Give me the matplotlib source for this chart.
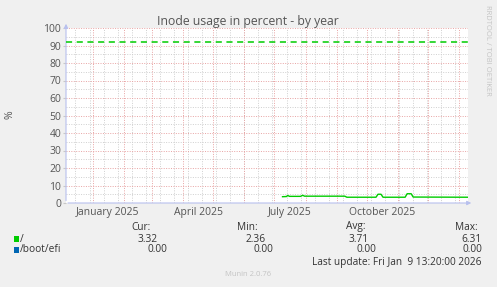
import matplotlib
matplotlib.use("Agg")
import matplotlib.pyplot as plt
import matplotlib.dates as mdates
import numpy as np
from datetime import datetime, timedelta

# ---- data ----
dates_root = ["2025-07-09", "2025-07-13", "2025-07-14", "2025-07-16", "2025-07-27",
              "2025-07-29", "2025-07-31", "2025-09-09", "2025-09-11", "2025-10-10",
              "2025-10-12", "2025-10-15", "2025-10-17", "2025-11-08", "2025-11-10",
              "2025-11-14", "2025-11-16", "2026-01-09"]
values_root = [3.6, 3.7, 4.3, 3.8, 3.8, 4.4, 3.9, 3.9, 3.3, 3.3,
               5.0, 5.0, 3.3, 3.3, 5.3, 5.3, 3.4, 3.3]
warning_level = 92
series_names = ["/", "/boot/efi"]
series_colors = ["#00CC00", "#0066B3"]
cur_vals = ["3.32", "0.00"]
min_vals = ["2.36", "0.00"]
avg_vals = ["3.71", "0.00"]
max_vals = ["6.31", "0.00"]
month_labels = ["January 2025", "April 2025", "July 2025", "October 2025"]
month_label_dates = ["2025-01-16", "2025-04-16", "2025-07-16", "2025-10-16"]
yticks = list(range(0, 101, 10))

W, H = 497, 287
fig = plt.figure(figsize=(W / 100, H / 100), dpi=100, facecolor="#F0F0F0")
FONT = "Open Sans"
plt.rcParams["font.family"] = [FONT, "DejaVu Sans"]

x0, x1, y0, y1 = 66, 468, 28, 203
ax = fig.add_axes([x0 / W, 1 - y1 / H, (x1 - x0) / W, (y1 - y0) / H])
ax.set_facecolor("white")

start = datetime(2024, 12, 5, 13, 20)
end = datetime(2026, 1, 9, 13, 20)
ax.set_xlim(start, end)
ax.set_ylim(0, 100)

# grid
minor_c = "#cfcfcf"
major_c = "#e8a3a3"
d = datetime(2024, 12, 15)
while d < end:
    ax.axvline(d, color=minor_c, lw=0.7, ls=(0, (1, 1.5)), zorder=1)
    d += timedelta(days=14)
for v in range(5, 100, 10):
    ax.axhline(v, color=minor_c, lw=0.7, ls=(0, (1, 1.5)), zorder=1)
for yr, mo in [(2025, m) for m in range(1, 13)] + [(2026, 1)]:
    ax.axvline(datetime(yr, mo, 1), color=major_c, lw=0.7, ls=(0, (1, 1.5)), zorder=2)
for v in yticks[1:]:
    ax.axhline(v, color=major_c, lw=0.7, ls=(0, (1, 1.5)), zorder=2)

# data
xd = [datetime.strptime(s, "%Y-%m-%d") for s in dates_root]
ax.plot(xd, values_root, color=series_colors[0], lw=1.0, zorder=5)
ax.axhline(warning_level, color="#00CC00", lw=1.1, ls=(0, (4, 3)), zorder=4)

# axes styling
for s in ax.spines.values():
    s.set_visible(False)
axis_c = "#b8c0ee"
ax.annotate("", xy=(1.015, 0), xytext=(-0.002, 0), xycoords="axes fraction",
            arrowprops=dict(arrowstyle="-|>", color=axis_c, lw=0.8, mutation_scale=6),
            annotation_clip=False)
ax.annotate("", xy=(0, 1.04), xytext=(0, -0.002), xycoords="axes fraction",
            arrowprops=dict(arrowstyle="-|>", color=axis_c, lw=0.8, mutation_scale=6),
            annotation_clip=False)

ax.set_yticks(yticks)
ax.set_yticklabels([str(v) for v in yticks])
ax.tick_params(axis="y", length=2, color="#c8c8c8", labelsize=7.5, labelcolor="#555555", pad=1.5)
ax.set_xticks([datetime.strptime(s, "%Y-%m-%d") for s in month_label_dates])
ax.set_xticklabels(month_labels)
ax.tick_params(axis="x", length=0, labelsize=7.5, labelcolor="#555555", pad=3)

fig.text(10 / W, 1 - 115 / H, "%", rotation=90, ha="center", va="center",
         fontsize=7.5, color="#555555")
fig.text(248 / W, 1 - 21 / H, "Inode usage in percent - by year", ha="center", va="center",
         fontsize=8.8, color="#555555")
fig.text(488 / W, 1 - 50 / H, "RRDTOOL / TOBI OETIKER", rotation=270, ha="center", va="center",
         fontsize=5.5, color="#c4c4c4")

# legend
tc = "#333333"
fs = 7.3
hy = 1 - 227 / H
for txt, xr in [("Cur:", 151), ("Min:", 258), ("Avg:", 365), ("Max:", 478)]:
    fig.text(xr / W, hy, txt, ha="right", va="center", fontsize=fs, color=tc)
rows_y = [239, 250]
col_right = [(158, 266, 369, 482), (167, 273, 376, 482)]
for i in range(2):
    yy = 1 - rows_y[i] / H
    fig.patches.append(plt.Rectangle((14 / W, 1 - (rows_y[i] + 3) / H), 5 / W, 6 / H,
                                     transform=fig.transFigure, facecolor=series_colors[i],
                                     edgecolor="none"))
    fig.text(20 / W, yy, series_names[i], ha="left", va="center", fontsize=fs, color=tc)
    for val, xr in zip([cur_vals[i], min_vals[i], avg_vals[i], max_vals[i]], col_right[i]):
        fig.text(xr / W, yy, val, ha="right", va="center", fontsize=fs, color=tc)
fig.text(482 / W, 1 - 262 / H, "Last update: Fri Jan  9 13:20:00 2026", ha="right", va="center",
         fontsize=fs, color=tc)
fig.text(248 / W, 1 - 275 / H, "Munin 2.0.76", ha="center", va="center", fontsize=5.5,
         color="#c4c4c4")

fig.savefig("out.png", dpi=100, facecolor=fig.get_facecolor())
